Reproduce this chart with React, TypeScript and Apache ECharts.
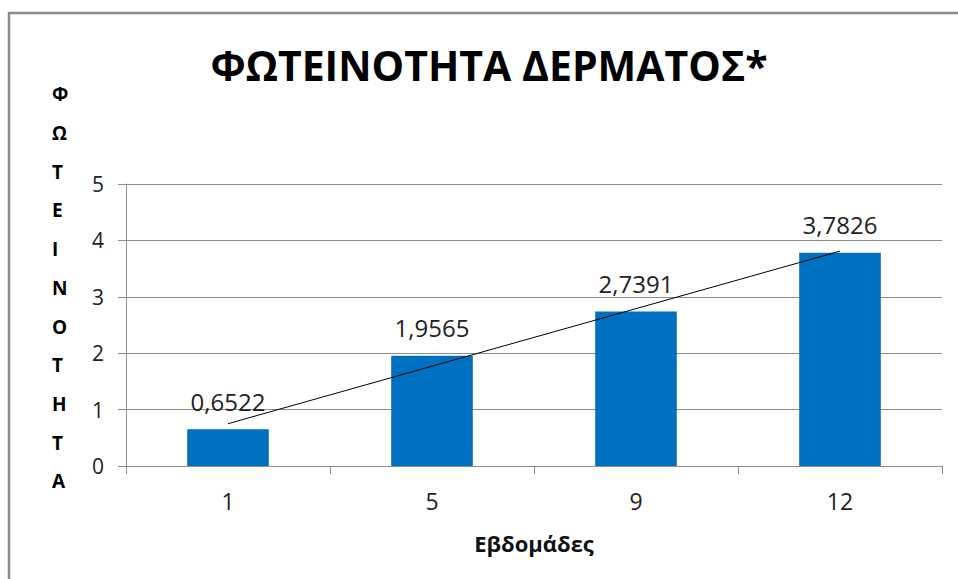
import React, { useEffect, useRef } from "react";
import * as echarts from "echarts";

const categories = ["1", "5", "9", "12"];
const values = [0.6522, 1.9565, 2.7391, 3.7826];
const trendValues = [0.75, null, null, 3.81];
const yTicks = [0, 1, 2, 3, 4, 5];
const titleText = "ΦΩΤΕΙΝΟΤΗΤΑ ΔΕΡΜΑΤΟΣ*";
const yName = "ΦΩΤΕΙΝΟΤΗΤΑ";
const xName = "Εβδομάδες";

const FONT = "'Open Sans', 'Noto Sans', sans-serif";

export default function App() {
  const ref = useRef<HTMLDivElement>(null);
  useEffect(() => {
    if (!ref.current) return;
    const chart = echarts.init(ref.current, null, { renderer: "svg" });
    chart.setOption({
      animation: false,
      backgroundColor: "#ffffff",
      textStyle: { fontFamily: FONT },
      title: {
        text: titleText,
        left: 484,
        top: 39,
        textAlign: "center",
        textStyle: { fontFamily: FONT, fontSize: 41, fontWeight: "bold", color: "#000", letterSpacing: -1.5 },
      },
      grid: { left: 126, right: 16, top: 184, bottom: 113, containLabel: false },
      xAxis: {
        type: "category",
        data: categories,
        axisLine: { show: true, lineStyle: { color: "#8c8c8c", width: 1 } },
        axisTick: { show: true, length: 8, alignWithLabel: false, lineStyle: { color: "#8c8c8c" } },
        axisLabel: { fontSize: 23, color: "#222", margin: 23, fontFamily: FONT },
        name: xName,
        nameLocation: "middle",
        nameGap: 66,
        nameTextStyle: { fontSize: 22, fontWeight: "bold", color: "#111", fontFamily: FONT },
      },
      yAxis: {
        type: "value",
        min: 0,
        max: 5,
        interval: 1,
        axisLine: { show: true, lineStyle: { color: "#8c8c8c", width: 1 } },
        axisTick: { show: true, length: 8, lineStyle: { color: "#8c8c8c" } },
        splitLine: { show: true, lineStyle: { color: "#8c8c8c", width: 1 } },
        axisLabel: {
          fontSize: 21,
          color: "#222",
          margin: 22,
          fontFamily: FONT,
          formatter: (v: number) => (yTicks.includes(v) ? String(v) : ""),
        },
      },
      graphic: [
        {
          type: "rect",
          shape: { x: 9, y: 13, width: 1000, height: 700 },
          style: { fill: "none", stroke: "#8a8a8a", lineWidth: 2.5 },
          silent: true,
        },
        {
          type: "text",
          left: 52,
          top: 75,
          style: {
            text: yName.split("").join("\n"),
            fontFamily: FONT,
            fontSize: 19,
            fontWeight: "bold",
            fill: "#000",
            lineHeight: 38.7,
            align: "center",
          },
        },
      ],
      series: [
        {
          type: "bar",
          data: values,
          barWidth: "40%",
          itemStyle: { color: "#0070C0" },
          label: {
            show: true,
            position: "top",
            distance: 16,
            fontSize: 24,
            color: "#222",
            fontFamily: FONT,
            formatter: (p: any) => String(p.value).replace(".", ","),
          },
        },
        {
          type: "line",
          data: trendValues,
          connectNulls: true,
          showSymbol: false,
          symbol: "none",
          lineStyle: { color: "#000", width: 1 },
          z: 5,
        },
      ],
    });
    return () => chart.dispose();
  }, []);
  return <div ref={ref} style={{ position: "fixed", left: 0, top: 0, width: 958, height: 579 }} />;
}
